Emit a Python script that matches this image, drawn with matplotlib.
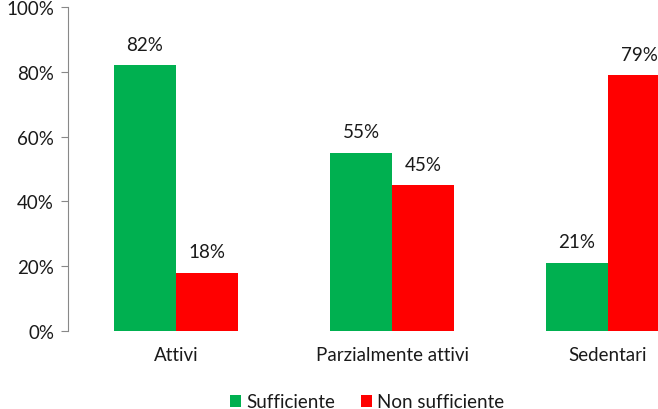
import matplotlib.pyplot as plt
import numpy as np

categorie = ["Attivi", "Parzialmente attivi", "Sedentari"]
sufficiente = [82, 55, 21]
non_sufficiente = [18, 45, 79]
serie = ["Sufficiente", "Non sufficiente"]
colori = ["#00B050", "#FF0000"]

plt.rcParams['font.family'] = ['Lato', 'DejaVu Sans']
plt.rcParams['text.color'] = "#1a1a1a"
plt.rcParams['xtick.color'] = "#1a1a1a"
plt.rcParams['ytick.color'] = "#1a1a1a"

fig = plt.figure(figsize=(6.58, 4.10), dpi=100)
ax = fig.add_axes([68/658, 78/410, 590/658, 324/410])

x = np.arange(len(categorie))
w = 62/216
b1 = ax.bar(x - w/2, sufficiente, w, color=colori[0], label=serie[0])
b2 = ax.bar(x + w/2, non_sufficiente, w, color=colori[1], label=serie[1])

fs = 13.5
for bars, vals in [(b1, sufficiente), (b2, non_sufficiente)]:
    for r, v in zip(bars, vals):
        ax.annotate(f"{v}%", (r.get_x() + r.get_width()/2, v),
                    xytext=(0, 9), textcoords="offset points",
                    ha="center", va="bottom", fontsize=fs)

ax.set_xlim(-0.5, -0.5 + 590/216)
ax.set_ylim(0, 100)
ax.set_yticks(range(0, 101, 20))
ax.set_yticklabels([f"{t}%" for t in range(0, 101, 20)], fontsize=fs)
ax.set_xticks(x)
ax.set_xticklabels(categorie, fontsize=fs)
ax.tick_params(axis='x', length=0, pad=11)
ax.tick_params(axis='y', length=5, color="#888888", pad=5)
for s in ['top', 'right', 'bottom']:
    ax.spines[s].set_visible(False)
ax.spines['left'].set_color("#888888")

fig.legend(loc="center", bbox_to_anchor=(367/658, 1 - 403/410), ncol=2,
           frameon=False, fontsize=fs, handlelength=0.6, handleheight=0.6,
           handletextpad=0.25, columnspacing=1.4)

fig.savefig("out.png", dpi=100)
